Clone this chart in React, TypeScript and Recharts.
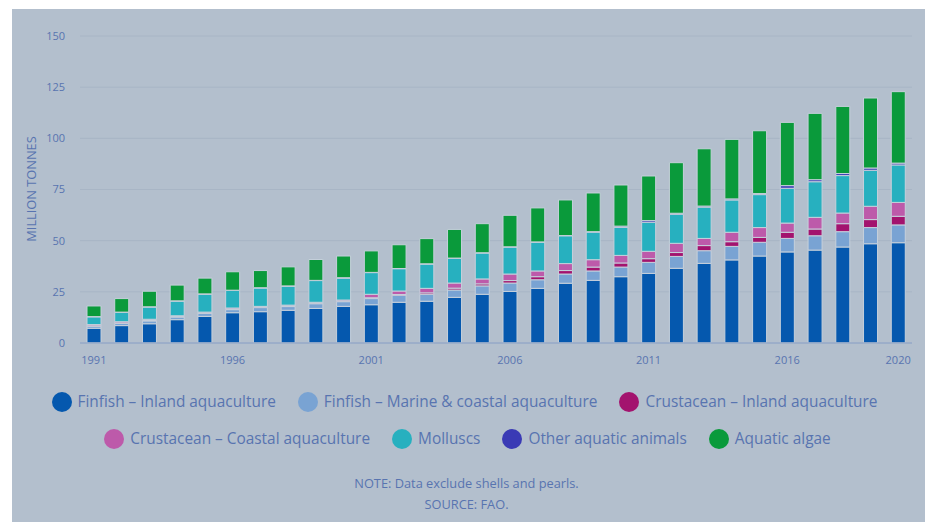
import React from 'react';
import { BarChart, Bar, XAxis, YAxis, CartesianGrid } from 'recharts';

const years = [
  1991, 1992, 1993, 1994, 1995, 1996, 1997, 1998, 1999, 2000,
  2001, 2002, 2003, 2004, 2005, 2006, 2007, 2008, 2009, 2010,
  2011, 2012, 2013, 2014, 2015, 2016, 2017, 2018, 2019, 2020,
];
const labelledYears = [1991, 1996, 2001, 2006, 2011, 2016, 2020];
const yTicks = [0, 25, 50, 75, 100, 125, 150];

const finfishInland = [7.2, 8.5, 9.4, 11.4, 13.0, 14.8, 15.3, 16.0, 16.9, 17.9, 18.7, 19.9, 20.4, 22.3, 23.8, 25.2, 26.7, 29.2, 30.6, 32.4, 34.0, 36.5, 38.9, 40.6, 42.5, 44.5, 45.4, 46.9, 48.5, 49.0];
const finfishMarine = [1.0, 1.1, 1.4, 1.3, 1.5, 1.5, 2.0, 1.8, 2.3, 2.3, 3.0, 3.4, 3.4, 3.6, 4.1, 4.1, 4.2, 4.5, 4.6, 4.7, 5.4, 5.8, 6.2, 6.6, 6.7, 6.6, 7.0, 7.5, 7.9, 8.7];
const crustInland = [0.2, 0.2, 0.2, 0.2, 0.2, 0.3, 0.2, 0.3, 0.3, 0.3, 0.4, 0.4, 0.7, 0.9, 1.0, 1.2, 1.5, 1.7, 1.9, 2.0, 1.8, 1.9, 2.5, 2.3, 2.4, 3.0, 3.3, 3.9, 3.9, 4.2];
const crustCoastal = [0.6, 0.6, 0.6, 0.4, 0.4, 0.5, 0.4, 0.4, 0.4, 0.5, 1.7, 1.7, 2.2, 2.5, 2.4, 3.2, 2.8, 3.4, 3.6, 3.7, 3.6, 4.5, 3.5, 4.6, 4.8, 4.5, 5.7, 5.2, 6.5, 6.8];
const molluscs = [3.8, 4.6, 6.0, 7.2, 8.8, 8.6, 9.0, 9.3, 10.6, 10.7, 10.6, 10.9, 11.9, 12.1, 12.7, 13.2, 14.1, 13.6, 13.5, 13.7, 14.2, 14.2, 15.3, 15.8, 16.1, 17.0, 17.4, 18.3, 17.6, 18.3];
const otherAnimals = [0.1, 0.1, 0.1, 0.1, 0.1, 0.1, 0.1, 0.1, 0.1, 0.2, 0.1, 0.1, 0.1, 0.1, 0.1, 0.1, 0.1, 0.1, 0.2, 0.6, 0.8, 0.5, 0.5, 0.5, 0.5, 1.3, 1.0, 1.0, 1.1, 0.9];
const algae = [5.2, 6.6, 7.6, 7.7, 7.7, 9.0, 8.4, 9.3, 10.2, 10.6, 10.5, 11.6, 12.3, 14.0, 14.2, 15.4, 16.6, 17.4, 18.9, 20.1, 21.8, 24.7, 28.0, 29.1, 30.7, 30.9, 32.4, 32.8, 34.2, 34.9];

const series = [
  { key: 'finfishInland', name: 'Finfish – Inland aquaculture', color: '#0558ae', values: finfishInland },
  { key: 'finfishMarine', name: 'Finfish – Marine & coastal aquaculture', color: '#79a3d3', values: finfishMarine },
  { key: 'crustInland', name: 'Crustacean – Inland aquaculture', color: '#a3136e', values: crustInland },
  { key: 'crustCoastal', name: 'Crustacean – Coastal aquaculture', color: '#bd5aaa', values: crustCoastal },
  { key: 'molluscs', name: 'Molluscs', color: '#27b0bf', values: molluscs },
  { key: 'otherAnimals', name: 'Other aquatic animals', color: '#3a3ab5', values: otherAnimals },
  { key: 'algae', name: 'Aquatic algae', color: '#0a9a3b', values: algae },
];

const rows = years.map((year, i) => {
  const row: Record<string, number> = { year };
  series.forEach((s) => { row[s.key] = s.values[i]; });
  return row;
});

const textBlue = '#5874b0';
const font = '"Open Sans", sans-serif';

function XTick({ x, y, payload }: any) {
  if (!labelledYears.includes(payload.value)) return <g />;
  return (
    <text x={x} y={y + 13} textAnchor="middle" fill={textBlue} fontSize={11} fontFamily={font}>
      {payload.value}
    </text>
  );
}

function YLabel() {
  return (
    <text
      x={19}
      y={180}
      transform="rotate(-90 19 180)"
      textAnchor="middle"
      dominantBaseline="central"
      fill={textBlue}
      fontSize={12.8}
      fontFamily={font}
    >
      MILLION TONNES
    </text>
  );
}

function LegendItem({ name, color }: { name: string; color: string }) {
  return (
    <div style={{ display: 'flex', alignItems: 'center', marginRight: 22 }}>
      <span style={{ width: 20, height: 20, borderRadius: '50%', background: color, marginRight: 6 }} />
      <span style={{ color: textBlue, fontSize: 15.4 }}>{name}</span>
    </div>
  );
}

export default function App() {
  const rowOne = series.slice(0, 3);
  const rowTwo = series.slice(3);
  return (
    <div style={{ position: 'relative', width: 925, height: 522, background: '#fff', fontFamily: font, overflow: 'hidden' }}>
      <style>{'body{margin:0}'}</style>
      <div style={{ position: 'absolute', left: 12, top: 9, width: 913, height: 513, background: '#b3bfcd' }}>
        <BarChart width={913} height={365} data={rows} margin={{ top: 27, right: 13, left: 0, bottom: 0 }} barSize={14}>
          <CartesianGrid vertical={false} stroke="#a8b5c5" />
          <XAxis
            dataKey="year"
            interval={0}
            height={31}
            tickLine={false}
            axisLine={{ stroke: '#97aac8', strokeWidth: 1.5 }}
            tick={<XTick />}
          />
          <YAxis
            width={68}
            domain={[0, 150]}
            ticks={yTicks}
            axisLine={false}
            tickLine={false}
            tickMargin={9}
            tick={{ fill: textBlue, fontSize: 11, fontFamily: font }}
            label={<YLabel />}
          />
          {series.map((s) => (
            <Bar
              key={s.key}
              dataKey={s.key}
              name={s.name}
              stackId="a"
              fill={s.color}
              stroke="#c6d0db"
              strokeWidth={1}
              isAnimationActive={false}
            />
          ))}
        </BarChart>
        <div style={{ position: 'absolute', top: 382, left: 0, width: 913, display: 'flex', justifyContent: 'center', paddingLeft: 14, boxSizing: 'border-box' }}>
          {rowOne.map((s) => <LegendItem key={s.key} name={s.name} color={s.color} />)}
        </div>
        <div style={{ position: 'absolute', top: 419, left: 0, width: 913, display: 'flex', justifyContent: 'center', paddingLeft: 20, boxSizing: 'border-box' }}>
          {rowTwo.map((s) => <LegendItem key={s.key} name={s.name} color={s.color} />)}
        </div>
        <div style={{ position: 'absolute', top: 464, left: 0, width: 913, textAlign: 'center', color: textBlue, fontSize: 12.8, lineHeight: '21px', paddingRight: 4, boxSizing: 'border-box' }}>
          <div>NOTE: Data exclude shells and pearls.</div>
          <div>SOURCE: FAO.</div>
        </div>
      </div>
    </div>
  );
}
